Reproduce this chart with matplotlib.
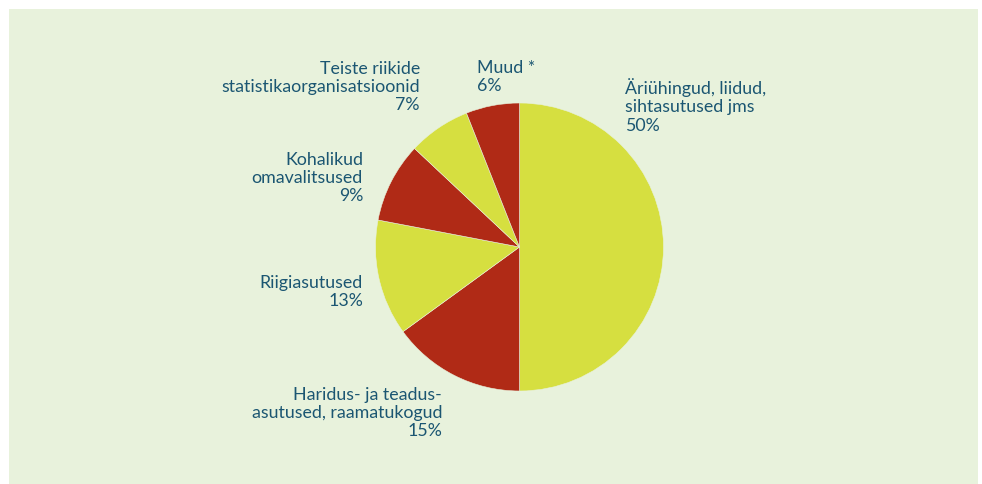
import matplotlib.pyplot as plt
from matplotlib.patches import Rectangle

# Data
labels = ["Äriühingud, liidud,\nsihtasutused jms",
          "Haridus- ja teadus-\nasutused, raamatukogud",
          "Riigiasutused",
          "Kohalikud\nomavalitsused",
          "Teiste riikide\nstatistikaorganisatsioonid",
          "Muud *"]
shares = [50, 15, 13, 9, 7, 6]

YELLOW = "#D6DF40"
RED = "#B02A16"
TEXT = "#1B5672"
BG = "#E8F2DC"
colors = [YELLOW, RED, YELLOW, RED, YELLOW, RED]

# label anchor (px from top-left) and alignment
label_pos = [(625, 106, "left"), (442, 413, "right"), (363, 292, "right"),
             (363, 178, "right"), (420, 87, "right"), (477, 77, "left")]

W, H = 982, 485
fig = plt.figure(figsize=(W / 100, H / 100), dpi=100)
fig.patch.set_facecolor("white")
fig.patches.append(Rectangle((9 / W, 0), (978 - 9) / W, 1 - 10 / H,
                             transform=fig.transFigure, facecolor=BG,
                             edgecolor="none", zorder=-5))

cx, cy, r = 519.5, 248, 144
ax = fig.add_axes([(cx - r) / W, (H - cy - r) / H, 2 * r / W, 2 * r / H])
ax.set_zorder(2)
ax.pie(shares, colors=colors, startangle=90, counterclock=False,
       wedgeprops=dict(edgecolor=BG, linewidth=0.4))
ax.set_aspect("equal")
ax.set_xlim(-1, 1)
ax.set_ylim(-1, 1)
ax.axis("off")

for lab, val, (x, y, ha) in zip(labels, shares, label_pos):
    fig.text(x / W, 1 - y / H, f"{lab}\n{val}%", ha=ha, va="center",
             multialignment=ha, color=TEXT, fontsize=12.8, family="Lato",
             linespacing=1.18)

fig.savefig("out.png", dpi=100, facecolor=fig.get_facecolor())
